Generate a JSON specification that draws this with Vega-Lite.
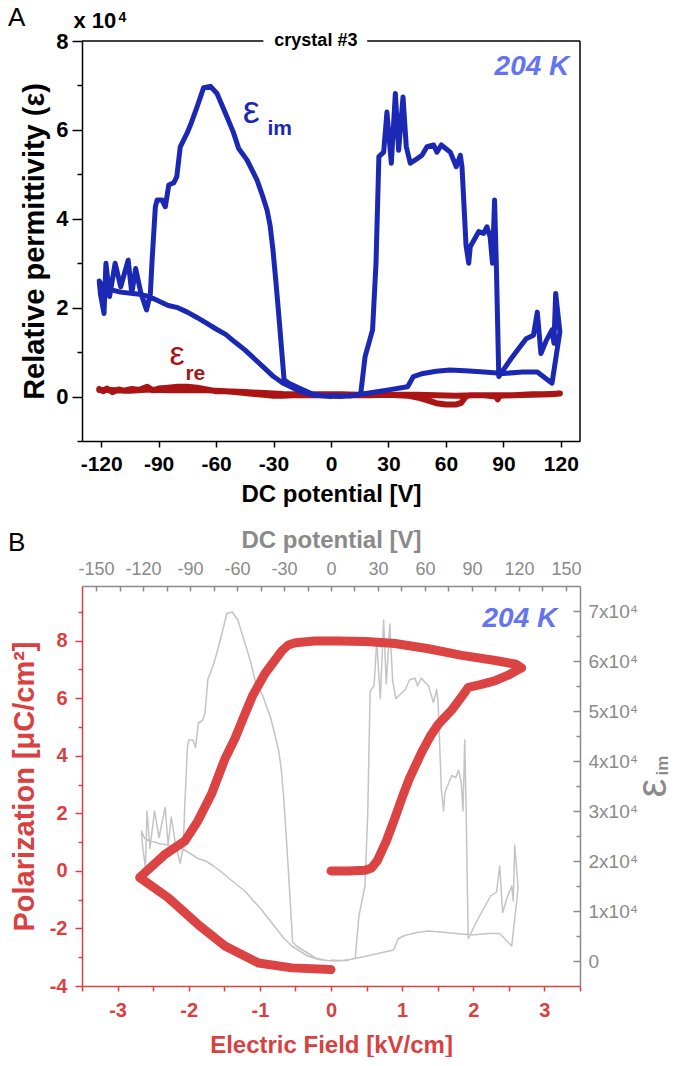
{
"$schema": "https://vega.github.io/schema/vega-lite/v6.json",
"padding": {"left": 8, "top": 5, "right": 0, "bottom": 0},
"background": "white",
"config": {"font": "Liberation Sans", "view": {"stroke": null}, "axis": {"grid": false, "labelFont": "Liberation Sans", "titleFont": "Liberation Sans", "labelFlush": false, "labelOverlap": false}, "text": {"font": "Liberation Sans"}},
"datasets": {
"eim": [{"i":0,"v":0,"e":0.02},{"i":1,"v":5,"e":0.01},{"i":2,"v":10,"e":0.01},{"i":3,"v":15.5,"e":0.06},{"i":4,"v":17.8,"e":0.9},{"i":5,"v":21.7,"e":1.5},{"i":6,"v":23.5,"e":3.0},{"i":7,"v":25,"e":5.4},{"i":8,"v":27.5,"e":5.5},{"i":9,"v":29.2,"e":6.4},{"i":10,"v":31.5,"e":5.25},{"i":11,"v":33.6,"e":6.82},{"i":12,"v":35.3,"e":5.54},{"i":13,"v":37.6,"e":6.74},{"i":14,"v":39.3,"e":5.62},{"i":15,"v":41.4,"e":5.25},{"i":16,"v":45.2,"e":5.36},{"i":17,"v":47.5,"e":5.43},{"i":18,"v":50.1,"e":5.62},{"i":19,"v":53.6,"e":5.66},{"i":20,"v":55.3,"e":5.5},{"i":21,"v":57.6,"e":5.66},{"i":22,"v":60.5,"e":5.56},{"i":23,"v":62.3,"e":5.5},{"i":24,"v":65.4,"e":5.17},{"i":25,"v":67.5,"e":5.43},{"i":26,"v":68.4,"e":5.17},{"i":27,"v":70.5,"e":3.4},{"i":28,"v":71.9,"e":3.0},{"i":29,"v":72.7,"e":3.37},{"i":30,"v":77.1,"e":3.71},{"i":31,"v":79.7,"e":3.67},{"i":32,"v":81.4,"e":3.82},{"i":33,"v":83.1,"e":3.59},{"i":34,"v":84.3,"e":3.0},{"i":35,"v":85.4,"e":4.42},{"i":36,"v":86.3,"e":3.0},{"i":37,"v":87.6,"e":0.45},{"i":38,"v":90,"e":0.6},{"i":39,"v":94,"e":0.85},{"i":40,"v":98,"e":1.08},{"i":41,"v":101.9,"e":1.3},{"i":42,"v":105.7,"e":1.38},{"i":43,"v":107.7,"e":1.9},{"i":44,"v":109.6,"e":0.97},{"i":45,"v":112.5,"e":1.27},{"i":46,"v":115.4,"e":1.5},{"i":47,"v":116.4,"e":1.2},{"i":48,"v":117.3,"e":2.32},{"i":49,"v":119.5,"e":1.46},{"i":50,"v":115.4,"e":0.3},{"i":51,"v":107.7,"e":0.55},{"i":52,"v":100,"e":0.55},{"i":53,"v":90,"e":0.52},{"i":54,"v":80,"e":0.55},{"i":55,"v":70,"e":0.58},{"i":56,"v":62,"e":0.6},{"i":57,"v":55,"e":0.57},{"i":58,"v":48,"e":0.52},{"i":59,"v":43,"e":0.45},{"i":60,"v":40,"e":0.22},{"i":61,"v":30,"e":0.15},{"i":62,"v":20,"e":0.08},{"i":63,"v":12,"e":0.03},{"i":64,"v":5,"e":0.0},{"i":65,"v":-3,"e":0.01},{"i":66,"v":-10,"e":0.06},{"i":67,"v":-17,"e":0.2},{"i":68,"v":-22,"e":0.3},{"i":69,"v":-24.5,"e":0.38},{"i":70,"v":-27.2,"e":1.8},{"i":71,"v":-28.8,"e":2.6},{"i":72,"v":-30.3,"e":3.3},{"i":73,"v":-31.8,"e":3.85},{"i":74,"v":-33.4,"e":4.2},{"i":75,"v":-36,"e":4.55},{"i":76,"v":-38.6,"e":4.87},{"i":77,"v":-43.8,"e":5.32},{"i":78,"v":-48.2,"e":5.58},{"i":79,"v":-51,"e":5.95},{"i":80,"v":-54.3,"e":6.29},{"i":81,"v":-59.5,"e":6.82},{"i":82,"v":-63,"e":6.98},{"i":83,"v":-66.5,"e":6.95},{"i":84,"v":-69.9,"e":6.52},{"i":85,"v":-73,"e":6.15},{"i":86,"v":-75.2,"e":5.92},{"i":87,"v":-78.7,"e":5.62},{"i":88,"v":-80.5,"e":4.95},{"i":89,"v":-82.1,"e":4.81},{"i":90,"v":-84.7,"e":4.76},{"i":91,"v":-86.5,"e":4.27},{"i":92,"v":-88.2,"e":4.42},{"i":93,"v":-90.8,"e":4.42},{"i":94,"v":-91.7,"e":4.27},{"i":95,"v":-93.4,"e":3.07},{"i":96,"v":-94.3,"e":2.32},{"i":97,"v":-96.3,"e":1.95},{"i":98,"v":-99.2,"e":2.32},{"i":99,"v":-102,"e":2.88},{"i":100,"v":-104,"e":2.32},{"i":101,"v":-105.9,"e":3.07},{"i":102,"v":-109.8,"e":2.47},{"i":103,"v":-112.7,"e":3.0},{"i":104,"v":-115.6,"e":2.25},{"i":105,"v":-117.5,"e":3.0},{"i":106,"v":-118.5,"e":1.87},{"i":107,"v":-120.4,"e":2.32},{"i":108,"v":-121,"e":2.6},{"i":109,"v":-119,"e":2.45},{"i":110,"v":-110,"e":2.35},{"i":111,"v":-100,"e":2.3},{"i":112,"v":-95,"e":2.25},{"i":113,"v":-90,"e":2.15},{"i":114,"v":-85,"e":2.05},{"i":115,"v":-80,"e":2.0},{"i":116,"v":-75,"e":1.9},{"i":117,"v":-70,"e":1.78},{"i":118,"v":-65,"e":1.65},{"i":119,"v":-60,"e":1.52},{"i":120,"v":-55,"e":1.4},{"i":121,"v":-50,"e":1.22},{"i":122,"v":-45,"e":1.05},{"i":123,"v":-40,"e":0.85},{"i":124,"v":-35,"e":0.65},{"i":125,"v":-30,"e":0.45},{"i":126,"v":-25,"e":0.3},{"i":127,"v":-20,"e":0.2},{"i":128,"v":-15,"e":0.1},{"i":129,"v":-8,"e":0.03},{"i":130,"v":0,"e":0.0}],
"ere": [{"i":0,"v":-121,"e":0.17},{"i":1,"v":-119,"e":0.12},{"i":2,"v":-117,"e":0.18},{"i":3,"v":-114,"e":0.1},{"i":4,"v":-111,"e":0.16},{"i":5,"v":-108,"e":0.13},{"i":6,"v":-104,"e":0.17},{"i":7,"v":-100,"e":0.15},{"i":8,"v":-96,"e":0.22},{"i":9,"v":-93,"e":0.14},{"i":10,"v":-90,"e":0.18},{"i":11,"v":-85,"e":0.2},{"i":12,"v":-80,"e":0.22},{"i":13,"v":-75,"e":0.22},{"i":14,"v":-70,"e":0.2},{"i":15,"v":-65,"e":0.16},{"i":16,"v":-60,"e":0.12},{"i":17,"v":-55,"e":0.12},{"i":18,"v":-50,"e":0.1},{"i":19,"v":-45,"e":0.08},{"i":20,"v":-40,"e":0.06},{"i":21,"v":-35,"e":0.04},{"i":22,"v":-30,"e":0.02},{"i":23,"v":-25,"e":0.02},{"i":24,"v":-20,"e":0.03},{"i":25,"v":-10,"e":0.03},{"i":26,"v":0,"e":0.03},{"i":27,"v":10,"e":0.03},{"i":28,"v":20,"e":0.03},{"i":29,"v":30,"e":0.04},{"i":30,"v":40,"e":0.02},{"i":31,"v":45,"e":-0.02},{"i":32,"v":50,"e":-0.08},{"i":33,"v":55,"e":-0.15},{"i":34,"v":60,"e":-0.18},{"i":35,"v":65,"e":-0.18},{"i":36,"v":68,"e":-0.14},{"i":37,"v":70,"e":-0.02},{"i":38,"v":72,"e":0.03},{"i":39,"v":80,"e":0.03},{"i":40,"v":86,"e":0.0},{"i":41,"v":87,"e":-0.06},{"i":42,"v":88,"e":0.02},{"i":43,"v":95,"e":0.03},{"i":44,"v":100,"e":0.04},{"i":45,"v":105,"e":0.05},{"i":46,"v":110,"e":0.05},{"i":47,"v":115,"e":0.06},{"i":48,"v":119.5,"e":0.07},{"i":49,"v":115,"e":0.05},{"i":50,"v":105,"e":0.04},{"i":51,"v":95,"e":0.03},{"i":52,"v":85,"e":0.03},{"i":53,"v":75,"e":0.03},{"i":54,"v":65,"e":0.02},{"i":55,"v":55,"e":0.03},{"i":56,"v":45,"e":0.04},{"i":57,"v":35,"e":0.04},{"i":58,"v":25,"e":0.04},{"i":59,"v":15,"e":0.04},{"i":60,"v":5,"e":0.05},{"i":61,"v":-5,"e":0.05},{"i":62,"v":-15,"e":0.05},{"i":63,"v":-25,"e":0.06},{"i":64,"v":-35,"e":0.08},{"i":65,"v":-45,"e":0.1},{"i":66,"v":-55,"e":0.12},{"i":67,"v":-65,"e":0.14},{"i":68,"v":-75,"e":0.15},{"i":69,"v":-85,"e":0.14},{"i":70,"v":-95,"e":0.16},{"i":71,"v":-105,"e":0.13},{"i":72,"v":-115,"e":0.15},{"i":73,"v":-121,"e":0.15}],
"pe": [{"i":0,"E":0,"P":0},{"i":1,"E":0.25,"P":0},{"i":2,"E":0.48,"P":0.02},{"i":3,"E":0.57,"P":0.1},{"i":4,"E":0.65,"P":0.35},{"i":5,"E":0.78,"P":1.05},{"i":6,"E":0.9,"P":1.85},{"i":7,"E":1.0,"P":2.55},{"i":8,"E":1.1,"P":3.2},{"i":9,"E":1.27,"P":4.1},{"i":10,"E":1.4,"P":4.7},{"i":11,"E":1.51,"P":5.1},{"i":12,"E":1.7,"P":5.6},{"i":13,"E":1.85,"P":6.1},{"i":14,"E":1.93,"P":6.38},{"i":15,"E":2.1,"P":6.47},{"i":16,"E":2.3,"P":6.6},{"i":17,"E":2.49,"P":6.8},{"i":18,"E":2.62,"P":6.98},{"i":19,"E":2.68,"P":7.05},{"i":20,"E":2.6,"P":7.18},{"i":21,"E":2.31,"P":7.31},{"i":22,"E":1.84,"P":7.49},{"i":23,"E":1.37,"P":7.72},{"i":24,"E":0.9,"P":7.9},{"i":25,"E":0.5,"P":7.97},{"i":26,"E":0.1,"P":7.99},{"i":27,"E":-0.23,"P":7.99},{"i":28,"E":-0.5,"P":7.93},{"i":29,"E":-0.6,"P":7.85},{"i":30,"E":-0.69,"P":7.65},{"i":31,"E":-0.93,"P":6.85},{"i":32,"E":-1.1,"P":6.1},{"i":33,"E":-1.21,"P":5.45},{"i":34,"E":-1.35,"P":4.6},{"i":35,"E":-1.49,"P":3.9},{"i":36,"E":-1.68,"P":2.67},{"i":37,"E":-1.87,"P":1.74},{"i":38,"E":-2.05,"P":1.05},{"i":39,"E":-2.33,"P":0.58},{"i":40,"E":-2.69,"P":-0.23},{"i":41,"E":-2.29,"P":-0.93},{"i":42,"E":-1.87,"P":-1.86},{"i":43,"E":-1.49,"P":-2.61},{"i":44,"E":-1.02,"P":-3.2},{"i":45,"E":-0.55,"P":-3.37},{"i":46,"E":0,"P":-3.43}]
},
"bounds": "flush",
"spacing": 145,
"vconcat": [
{
"width": 498, "height": 400,
"layer": [
{"data": {"name": "ere"}, "mark": {"type": "line", "color": "#aa1414", "strokeWidth": 6, "strokeJoin": "round", "strokeCap": "round"},
 "encoding": {
  "x": {"field": "v", "type": "quantitative", "scale": {"domain": [-130, 130], "nice": false, "zero": false},
   "axis": {"orient": "bottom", "title": "DC potential [V]", "values": [-120,-105,-90,-75,-60,-45,-30,-15,0,15,30,45,60,75,90,105,120], "labelExpr": "datum.value % 30 === 0 ? '' + datum.value : ''", "domainColor": "black", "domainWidth": 1.5, "tickColor": "black", "tickWidth": 1.5, "tickSize": 6, "labelColor": "black", "labelFontSize": 21, "labelFontWeight": "bold", "labelPadding": 6, "titleColor": "black", "titleFontSize": 24, "titleFontWeight": "bold", "titlePadding": 8}},
  "y": {"field": "e", "type": "quantitative", "scale": {"domain": [-1, 8], "nice": false, "zero": false},
   "axis": {"orient": "left", "title": "Relative permittivity (ε)", "values": [-1,0,1,2,3,4,5,6,7,8], "labelExpr": "datum.value % 2 === 0 ? '' + datum.value : ''", "domainColor": "black", "domainWidth": 1.5, "tickColor": "black", "tickWidth": 1.5, "tickSize": {"condition": {"test": "datum.value % 2 === 0", "value": 10}, "value": 5}, "labelColor": "black", "labelFontSize": 22, "labelFontWeight": "bold", "labelPadding": 4, "titleColor": "black", "titleFontSize": 29, "titleFontWeight": "bold", "titlePadding": 6}},
  "order": {"field": "i", "type": "quantitative"}}},
{"data": {"name": "eim"}, "mark": {"type": "line", "color": "#1b28b4", "strokeWidth": 5, "strokeJoin": "round", "strokeCap": "round"},
 "encoding": {"x": {"field": "v", "type": "quantitative"}, "y": {"field": "e", "type": "quantitative"}, "order": {"field": "i", "type": "quantitative"}}},
{"data": {"values": [{"x": -130, "x2": -35.3, "y": 8, "y2": 8}, {"x": 18.9, "x2": 130, "y": 8, "y2": 8}, {"x": 130, "x2": 130, "y": -1, "y2": 8}]},
 "mark": {"type": "rule", "color": "black", "strokeWidth": 1.5},
 "encoding": {"x": {"field": "x", "type": "quantitative"}, "x2": {"field": "x2"}, "y": {"field": "y", "type": "quantitative"}, "y2": {"field": "y2"}}},
{"data": {"values": [{}]}, "mark": {"type": "text", "text": "crystal #3", "fontSize": 18, "fontWeight": "bold", "color": "black", "align": "center", "baseline": "middle"},
 "encoding": {"x": {"datum": -7.9, "type": "quantitative"}, "y": {"datum": 8, "type": "quantitative"}}},
{"data": {"values": [{}]}, "mark": {"type": "text", "text": "204 K", "fontSize": 28, "fontWeight": "bold", "fontStyle": "italic", "color": "#6473ef", "align": "right", "baseline": "alphabetic"},
 "encoding": {"x": {"datum": 124.4, "type": "quantitative"}, "y": {"datum": 7.23, "type": "quantitative"}}},
{"data": {"values": [{}]}, "mark": {"type": "text", "text": "ε", "fontSize": 38, "color": "#1b28b4", "align": "center", "baseline": "alphabetic"},
 "encoding": {"x": {"datum": -41.6, "type": "quantitative"}, "y": {"datum": 6.15, "type": "quantitative"}}},
{"data": {"values": [{}]}, "mark": {"type": "text", "text": "im", "fontSize": 21, "fontWeight": "bold", "color": "#1b28b4", "align": "left", "baseline": "alphabetic"},
 "encoding": {"x": {"datum": -33.2, "type": "quantitative"}, "y": {"datum": 5.88, "type": "quantitative"}}},
{"data": {"values": [{}]}, "mark": {"type": "text", "text": "ε", "fontSize": 34, "color": "#aa1414", "align": "center", "baseline": "alphabetic"},
 "encoding": {"x": {"datum": -80.3, "type": "quantitative"}, "y": {"datum": 0.71, "type": "quantitative"}}},
{"data": {"values": [{}]}, "mark": {"type": "text", "text": "re", "fontSize": 21, "fontWeight": "bold", "color": "#aa1414", "align": "left", "baseline": "alphabetic"},
 "encoding": {"x": {"datum": -76, "type": "quantitative"}, "y": {"datum": 0.375, "type": "quantitative"}}},
{"data": {"values": [{}]}, "mark": {"type": "text", "text": "x 10", "fontSize": 22, "fontWeight": "bold", "color": "black", "align": "left", "baseline": "alphabetic"},
 "encoding": {"x": {"datum": -134.5, "type": "quantitative"}, "y": {"datum": 8.285, "type": "quantitative"}}},
{"data": {"values": [{}]}, "mark": {"type": "text", "text": "4", "fontSize": 14, "fontWeight": "bold", "color": "black", "align": "left", "baseline": "alphabetic"},
 "encoding": {"x": {"datum": -111, "type": "quantitative"}, "y": {"datum": 8.42, "type": "quantitative"}}},
{"data": {"values": [{}]}, "mark": {"type": "text", "text": "A", "fontSize": 26, "color": "black", "align": "left", "baseline": "top", "dx": -74, "dy": -35.9},
 "encoding": {"x": {"datum": -130, "type": "quantitative"}, "y": {"datum": 8, "type": "quantitative"}}}
]
},
{
"width": 498, "height": 400,
"resolve": {"scale": {"x": "independent", "y": "independent"}, "axis": {"x": "independent", "y": "independent"}},
"layer": [
{"data": {"name": "eim"}, "mark": {"type": "line", "color": "#c4c4c4", "strokeWidth": 1.5, "strokeJoin": "round"},
 "encoding": {
  "x": {"field": "v", "type": "quantitative", "scale": {"domain": [-159, 159], "nice": false, "zero": false},
   "axis": {"orient": "top", "title": "DC potential [V]", "values": [-150,-135,-120,-105,-90,-75,-60,-45,-30,-15,0,15,30,45,60,75,90,105,120,135,150], "labelExpr": "datum.value % 30 === 0 ? '' + datum.value : ''", "domainColor": "#8a8a8a", "domainWidth": 1.5, "tickColor": "#8a8a8a", "tickWidth": 1.5, "tickSize": -5, "labelColor": "#8a8a8a", "labelFontSize": 18, "labelPadding": 13, "titleColor": "#8a8a8a", "titleFontSize": 24, "titleFontWeight": "bold", "titlePadding": 8}},
  "y": {"field": "e", "type": "quantitative", "scale": {"domain": [-0.5, 7.5], "nice": false, "zero": false},
   "axis": {"orient": "right", "title": null, "values": [0,0.5,1,1.5,2,2.5,3,3.5,4,4.5,5,5.5,6,6.5,7], "labelExpr": "datum.value === 0 ? '0' : (datum.value % 1 === 0 ? datum.value + 'x10⁴' : '')", "domainColor": "#8a8a8a", "domainWidth": 1.5, "tickColor": "#8a8a8a", "tickWidth": 1.5, "tickSize": {"condition": {"test": "datum.value % 1 === 0", "value": -7}, "value": -4}, "labelColor": "#8a8a8a", "labelFontSize": 19, "labelPadding": 15}},
  "order": {"field": "i", "type": "quantitative"}}},
{"data": {"name": "pe"}, "mark": {"type": "line", "color": "#dc4343", "strokeWidth": 9, "strokeJoin": "round", "strokeCap": "round"},
 "encoding": {
  "x": {"field": "E", "type": "quantitative", "scale": {"domain": [-3.5, 3.5], "nice": false, "zero": false},
   "axis": {"orient": "bottom", "title": "Electric Field [kV/cm]", "values": [-3.5,-3,-2.5,-2,-1.5,-1,-0.5,0,0.5,1,1.5,2,2.5,3,3.5], "labelExpr": "datum.value % 1 === 0 ? '' + datum.value : ''", "domainColor": "#d94141", "domainWidth": 1.5, "tickColor": "#d94141", "tickWidth": 1.5, "tickSize": 5, "labelColor": "#d94141", "labelFontSize": 20, "labelFontWeight": "bold", "labelPadding": 9, "titleColor": "#d94141", "titleFontSize": 24, "titleFontWeight": "bold", "titlePadding": 13}},
  "y": {"field": "P", "type": "quantitative", "scale": {"domain": [-4, 9.9], "nice": false, "zero": false},
   "axis": {"orient": "left", "title": "Polarization [μC/cm²]", "values": [-4,-3,-2,-1,0,1,2,3,4,5,6,7,8,9], "labelExpr": "datum.value % 2 === 0 ? '' + datum.value : ''", "domainColor": "#d94141", "domainWidth": 1.5, "tickColor": "#d94141", "tickWidth": 1.5, "tickSize": {"condition": {"test": "datum.value % 2 === 0", "value": 7}, "value": 4}, "labelColor": "#d94141", "labelFontSize": 20, "labelFontWeight": "bold", "labelPadding": 8, "titleColor": "#d94141", "titleFontSize": 29, "titleFontWeight": "bold", "titlePadding": 10}},
  "order": {"field": "i", "type": "quantitative"}}},
{"data": {"values": [{}]}, "mark": {"type": "text", "text": "204 K", "fontSize": 28, "fontWeight": "bold", "fontStyle": "italic", "color": "#6473ef", "align": "right", "baseline": "alphabetic"},
 "encoding": {"x": {"datum": 3.18, "type": "quantitative", "scale": {"domain": [-3.5, 3.5], "nice": false, "zero": false}, "axis": null}, "y": {"datum": 8.48, "type": "quantitative", "scale": {"domain": [-4, 9.9], "nice": false, "zero": false}, "axis": null}}},
{"data": {"values": [{}]}, "mark": {"type": "text", "text": "B", "fontSize": 26, "color": "black", "align": "left", "baseline": "top", "dx": -74, "dy": -55.9},
 "encoding": {"x": {"datum": -3.5, "type": "quantitative", "scale": {"domain": [-3.5, 3.5], "nice": false, "zero": false}, "axis": null}, "y": {"datum": 9.9, "type": "quantitative", "scale": {"domain": [-4, 9.9], "nice": false, "zero": false}, "axis": null}}},
{"data": {"values": [{}]}, "mark": {"type": "text", "text": "ε", "fontSize": 42, "color": "#8a8a8a", "align": "center", "baseline": "middle", "angle": 270},
 "encoding": {"x": {"datum": 4.53, "type": "quantitative", "scale": {"domain": [-3.5, 3.5], "nice": false, "zero": false}, "axis": null}, "y": {"datum": 2.875, "type": "quantitative", "scale": {"domain": [-4, 9.9], "nice": false, "zero": false}, "axis": null}}},
{"data": {"values": [{}]}, "mark": {"type": "text", "text": "im", "fontSize": 17, "fontWeight": "bold", "color": "#8a8a8a", "align": "center", "baseline": "middle", "angle": 270},
 "encoding": {"x": {"datum": 4.66, "type": "quantitative", "scale": {"domain": [-3.5, 3.5], "nice": false, "zero": false}, "axis": null}, "y": {"datum": 3.66, "type": "quantitative", "scale": {"domain": [-4, 9.9], "nice": false, "zero": false}, "axis": null}}}
]
}
]
}
